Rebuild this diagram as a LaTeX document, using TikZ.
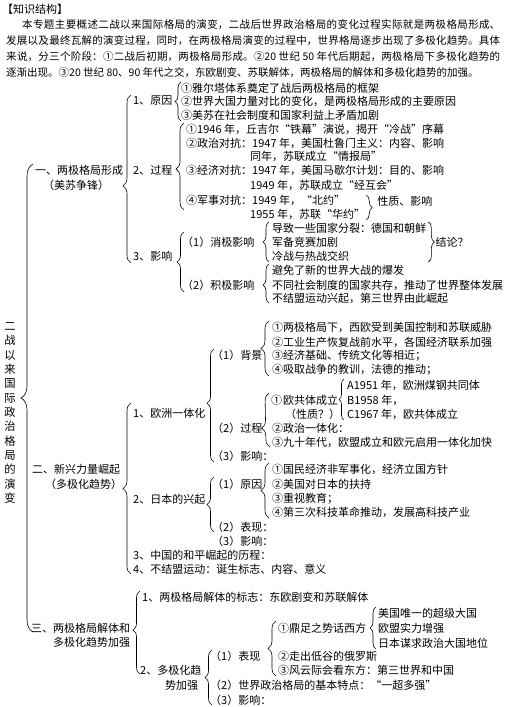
\documentclass[tikz,border=0pt]{standalone}
\usepackage{fontspec}
\setmainfont{Noto Sans CJK SC}
\usetikzlibrary{calc, decorations.pathreplacing}
\XeTeXlinebreaklocale "zh"
\XeTeXlinebreakskip = 0pt plus 2pt

\begin{document}
\begin{tikzpicture}
        [x=1pt, y=-1pt,
         txtsty/.style={anchor=west,
                        inner sep=0pt,
                        font=\fontsize{11}{13}\selectfont},
         parsty/.style={anchor=north west,
                        inner sep=0pt,
                        text width=494pt,
                        align=justify,
                        font=\fontsize{10.5}{16}\selectfont},
         vertsty/.style={inner sep=0pt,
                         align=center,
                         font=\fontsize{11.3}{14.33}\selectfont},
         brcsty/.style={decorate,
                        decoration={brace, amplitude=8pt, aspect=#1},
                        line width=0.6pt},
         brcsty/.default=0.5,
         smallbrc/.style={decorate,
                          decoration={brace, amplitude=6pt, aspect=#1},
                          line width=0.6pt},
         smallbrc/.default=0.5]

        \useasboundingbox (0,0) rectangle (509,707);

        % heading and introduction
        \node[txtsty] (head) at (2,9) {【知识结构】};
        \node[parsty] (intro) at (6,19) {\noindent\hspace*{16pt}本专题主要概述二战以来国际格局的演变，二战后世界政治格局的变化过程实际就是两极格局形成、\linebreak
发展以及最终瓦解的演变过程，同时，在两极格局演变的过程中，世界格局逐步出现了多极化趋势。具体\linebreak
来说，分三个阶段：①二战后初期，两极格局形成。②20 世纪 50 年代后期起，两极格局下多极化趋势的\linebreak
逐渐出现。③20 世纪 80、90 年代之交，东欧剧变、苏联解体，两极格局的解体和多极化趋势的加强。};

        \node[vertsty] (title) at (10,413) {二\\战\\以\\来\\国\\际\\政\\治\\格\\局\\的\\演\\变};

        % part one
        \node[txtsty] (part1 a) at (35,170) {一、两极格局形成};
        \node[txtsty] (part1 b) at (43,185) {（美苏争锋）};

        \node[txtsty] (cause) at (133,101) {1、原因};
        \node[txtsty] (cause 1) at (181,88) {①雅尔塔体系奠定了战后两极格局的框架};
        \node[txtsty] (cause 2) at (181,101) {②世界大国力量对比的变化，是两极格局形成的主要原因};
        \node[txtsty] (cause 3) at (181,115) {③美苏在社会制度和国家利益上矛盾加剧};

        \node[txtsty] (course) at (133,170) {2、过程};
        \node[txtsty] (course 1) at (186,129) {①1946 年，丘吉尔“铁幕”演说，揭开“冷战”序幕};
        \node[txtsty] (course 2) at (186,143) {②政治对抗：1947 年，美国杜鲁门主义：内容、影响};
        \node[txtsty] (course 2b) at (250,156) {同年，苏联成立“情报局”};
        \node[txtsty] (course 3) at (186,170) {③经济对抗：1947 年，美国马歇尔计划：目的、影响};
        \node[txtsty] (course 3b) at (250,185) {1949 年，苏联成立“经互会”};
        \node[txtsty] (course 4) at (186,200) {④军事对抗：1949 年，“北约”};
        \node[txtsty] (course 4b) at (250,214) {1955 年，苏联“华约”};
        \node[txtsty] (nature) at ($(course 4b.east)+(12,-13)$) {性质、影响};

        \node[txtsty] (effect) at (133,256) {3、影响};
        \node[txtsty] (neg) at (182,242) {（1）消极影响};
        \node[txtsty] (neg 1) at (272,228) {导致一些国家分裂：德国和朝鲜};
        \node[txtsty] (neg 2) at (272,242) {军备竞赛加剧};
        \node[txtsty] (neg 3) at (272,256) {冷战与热战交织};
        \node[txtsty] (conclusion) at ($(neg 1.east |- neg 2.east)+(9,0)$) {结论？};
        \node[txtsty] (pos) at (182,285) {（2）积极影响};
        \node[txtsty] (pos 1) at (272,270) {避免了新的世界大战的爆发};
        \node[txtsty] (pos 2) at (272,285) {不同社会制度的国家共存，推动了世界整体发展};
        \node[txtsty] (pos 3) at (272,298) {不结盟运动兴起，第三世界由此崛起};

        % part two
        \node[txtsty] (part2 a) at (32,469) {二、新兴力量崛起};
        \node[txtsty] (part2 b) at (45,484) {（多极化趋势）};

        \node[txtsty] (europe) at (133,413) {1、欧洲一体化};
        \node[txtsty] (eu bg) at (212,355) {（1）背景};
        \node[txtsty] (bg 1) at (272,327) {①两极格局下，西欧受到美国控制和苏联威胁};
        \node[txtsty] (bg 2) at (272,342) {②工业生产恢复战前水平，各国经济联系加强};
        \node[txtsty] (bg 3) at (272,356) {③经济基础、传统文化等相近；};
        \node[txtsty] (bg 4) at (272,370) {④吸取战争的教训，法德的推动；};
        \node[txtsty] (eu step) at (212,428) {（2）过程};
        \node[txtsty] (ec found) at (271,400) {①\hspace{1pt}欧共体成立};
        \node[txtsty] (ec nature) at (285,414) {（性质？）};
        \node[txtsty] (ec a) at (347,385) {A1951 年，欧洲煤钢共同体};
        \node[txtsty] (ec b) at (347,400) {B1958 年，};
        \node[txtsty] (ec c) at (347,414) {C1967 年，欧共体成立};
        \node[txtsty] (eu step 2) at (272,428) {②政治一体化：};
        \node[txtsty] (eu step 3) at (272,442) {③九十年代，欧盟成立和欧元启用一体化加快};
        \node[txtsty] (eu effect) at (212,456) {（3）影响：};

        \node[txtsty] (japan) at (133,499) {2、日本的兴起};
        \node[txtsty] (jp cause) at (212,484) {（1）原因};
        \node[txtsty] (jpc 1) at (272,469) {①国民经济非军事化，经济立国方针};
        \node[txtsty] (jpc 2) at (272,484) {②美国对日本的扶持};
        \node[txtsty] (jpc 3) at (272,499) {③重视教育；};
        \node[txtsty] (jpc 4) at (272,512) {④第三次科技革命推动，发展高科技产业};
        \node[txtsty] (jp show) at (212,527) {（2）表现：};
        \node[txtsty] (jp effect) at (212,541) {（3）影响：};

        \node[txtsty] (china) at (133,555) {3、中国的和平崛起的历程：};
        \node[txtsty] (nonaligned) at (133,569) {4、不结盟运动：诞生标志、内容、意义};

        % part three
        \node[txtsty] (part3 a) at (31,628) {三、两极格局解体和};
        \node[txtsty] (part3 b) at (53,642) {多极化趋势加强};

        \node[txtsty] (sign) at (142,597) {1、两极格局解体的标志：东欧剧变和苏联解体};
        \node[txtsty] (multi a) at (140,670) {2、多极化趋};
        \node[txtsty] (multi b) at (165,685) {势加强};
        \node[txtsty] (mp show) at (210,656) {（1）表现};
        \node[txtsty] (show 1) at (278,628) {①鼎足之势话西方};
        \node[txtsty] (west 1) at (378,613) {美国唯一的超级大国};
        \node[txtsty] (west 2) at (378,628) {欧盟实力增强};
        \node[txtsty] (west 3) at (378,643) {日本谋求政治大国地位};
        \node[txtsty] (show 2) at (278,656) {②走出低谷的俄罗斯};
        \node[txtsty] (show 3) at (278,670) {③风云际会看东方：第三世界和中国};
        \node[txtsty] (mp feature) at (210,685) {（2）世界政治格局的基本特点：“一超多强”};
        \node[txtsty] (mp effect) at (210,700) {（3）影响：};

        % braces
        \draw[brcsty, decoration={amplitude=12pt}] ($(part3 a.west)+(2,4)$) -- ($(part1 a.west)+(-2,-6)$);

        \draw[brcsty=0.46] ($(effect.west)+(-2,7)$) -- ($(cause.west)+(-2,-6)$);
        \draw[smallbrc] ($(cause 3.west)+(0,6)$) -- ($(cause 1.west)+(0,-6)$);
        \draw[brcsty=0.47] ($(course 4.west)+(-2,10)$) -- ($(course 1.west)+(-2,-6)$);
        \draw[smallbrc] ($(course 4b.east)+(1,-19)$) -- ($(course 4b.east)+(1,6)$);
        \draw[brcsty, decoration={amplitude=7pt}] ($(pos.west)+(2,7)$) -- ($(neg.west)+(2,-10)$);
        \draw[smallbrc] ($(neg 3.west)+(-3,6)$) -- ($(neg 1.west)+(-3,-6)$);
        \draw[smallbrc] ($(neg 1.east)+(2,-6)$) -- ($(neg 1.east |- neg 3.east)+(2,6)$);
        \draw[smallbrc=0.46] ($(pos 3.west)+(-3,5)$) -- ($(pos 1.west)+(-3,-6)$);

        \draw[brcsty] ($(nonaligned.west)+(-2,5)$) -- ($(europe.west)+(-2,-10)$);
        \draw[brcsty=0.52, decoration={amplitude=7pt}] ($(eu effect.west)+(2,6)$) -- ($(eu bg.west)+(2,-6)$);
        \draw[brcsty] ($(bg 4.west)+(-3,6)$) -- ($(bg 1.west)+(-3,-6)$);
        \draw[brcsty=0.35] ($(eu step 3.west)+(-2,5)$) -- ($(ec found.west)+(-2,-7)$);
        \draw[smallbrc, decoration={amplitude=5pt}] ($(ec c.west)+(-3,6)$) -- ($(ec a.west)+(-3,-6)$);
        \draw[brcsty, decoration={amplitude=7pt}] ($(jp show.west)+(2,5)$) -- ($(jp cause.west)+(2,-7)$);
        \draw[brcsty] ($(jpc 4.west)+(-3,6)$) -- ($(jpc 1.west)+(-3,-6)$);

        \draw[brcsty=0.53, decoration={amplitude=7pt}] ($(multi a.west)+(0,4)$) -- ($(sign.west)+(-2,-6)$);
        \draw[brcsty, decoration={amplitude=7pt}] ($(mp effect.west)+(2,5)$) -- ($(mp show.west)+(2,-6)$);
        \draw[brcsty] ($(show 3.west)+(-2,6)$) -- ($(show 1.west)+(-2,-7)$);
        \draw[smallbrc] ($(west 3.west)+(-2,6)$) -- ($(west 1.west)+(-2,-6)$);
\end{tikzpicture}
\end{document}
